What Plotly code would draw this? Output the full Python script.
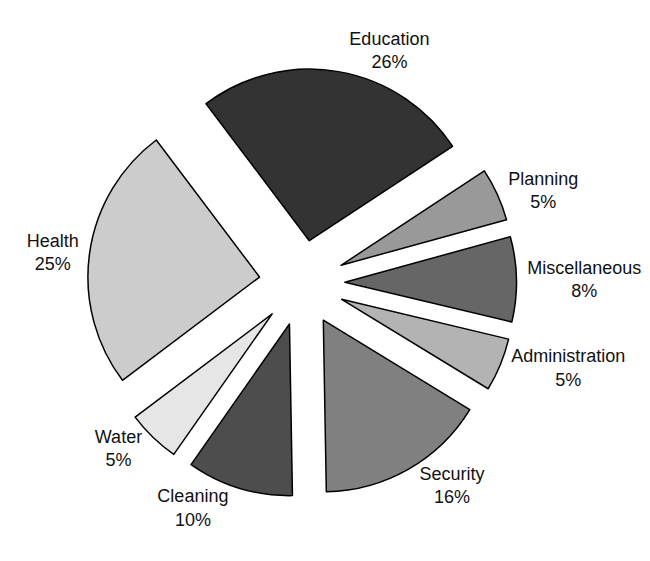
import plotly.graph_objects as go

categories = ["Education", "Planning", "Miscellaneous", "Administration",
              "Security", "Cleaning", "Water", "Health"]
shares = [26, 5, 8, 5, 16, 10, 5, 25]
colors = ["#333333", "#999999", "#666666", "#b3b3b3",
          "#808080", "#4d4d4d", "#e6e6e6", "#cccccc"]

W, H = 650, 561
cx, cy, D = 294, 275, 429

fig = go.Figure(go.Pie(
    labels=categories,
    values=shares,
    sort=False,
    direction="clockwise",
    rotation=-37,
    pull=[0.25] * len(shares),
    marker=dict(colors=colors, line=dict(color="#000000", width=1.5)),
    texttemplate="%{label}<br>%{value}%",
    textposition="outside",
    textfont=dict(family="Liberation Sans, Arial, sans-serif", size=18, color="#111111"),
    hoverinfo="label+percent",
    domain=dict(x=[(cx - D / 2) / W, (cx + D / 2) / W],
                y=[(H - cy - D / 2) / H, (H - cy + D / 2) / H]),
    automargin=False,
))

fig.update_layout(
    width=W, height=H,
    margin=dict(l=0, r=0, t=0, b=0),
    paper_bgcolor="white",
    plot_bgcolor="white",
    showlegend=False,
)

fig.write_html("out.html")
